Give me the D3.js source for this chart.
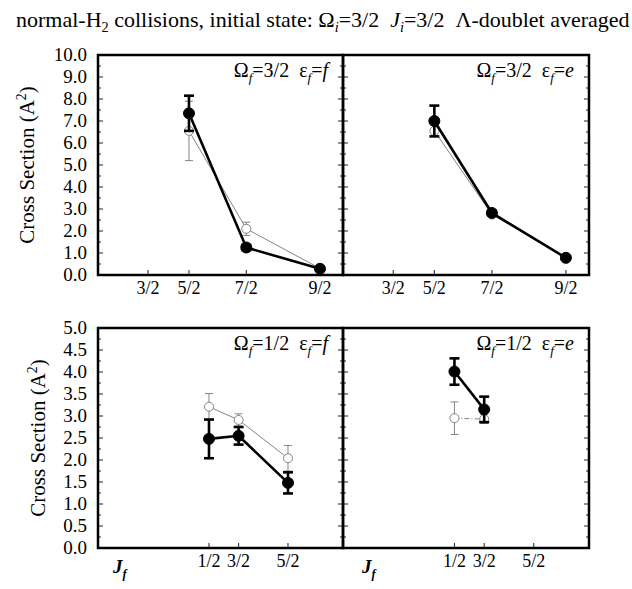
<!DOCTYPE html>
<html>
<head>
<meta charset="utf-8">
<script src="https://cdn.jsdelivr.net/npm/d3@7"></script>
<style>
  body { margin: 0; background: #fff; }
  svg { font-family: "Liberation Serif", "Times New Roman", serif; }
</style>
</head>
<body>
<div id="chart"></div>
<script>
// final rotational level, plotted against J(J+1)
const topJ = [2.5, 3.5, 4.5];
const topTicks = [1.5, 2.5, 3.5, 4.5];
const botJ = [0.5, 1.5, 2.5];
const botTicks = [0.5, 1.5, 2.5];
const tickNames = { 0.5: "1/2", 1.5: "3/2", 2.5: "5/2", 3.5: "7/2", 4.5: "9/2" };

// Omega_f = 3/2, eps_f = f
const f32Filled = [7.35, 1.25, 0.28];
const f32FilledErr = [0.8, 0.12, 0.08];
const f32Open = [6.55, 2.1, 0.3];
const f32OpenErr = [1.35, 0.3, 0.08];
// Omega_f = 3/2, eps_f = e
const e32Filled = [7.0, 2.82, 0.78];
const e32FilledErr = [0.7, 0.1, 0.08];
const e32Open = [6.55, 2.75, 0.8];
const e32OpenErr = [0.25, 0.1, 0.08];
// Omega_f = 1/2, eps_f = f
const f12Filled = [2.48, 2.55, 1.48];
const f12FilledErr = [0.44, 0.2, 0.24];
const f12Open = [3.21, 2.91, 2.04];
const f12OpenErr = [0.3, 0.14, 0.29];
// Omega_f = 1/2, eps_f = e
const e12Filled = [4.01, 3.15];
const e12FilledErr = [0.3, 0.29];
const e12Open = [2.95, 2.93];
const e12OpenErr = [0.37, 0.1];

const width = 632, height = 589;
const svg = d3.select("#chart").append("svg")
  .attr("width", width).attr("height", height);

const xs = s => s * (s + 1);
const gap = "\u00a0\u00a0";

// p.t text, p.dy shift, p.small sub/superscript size, p.i italic
function rich(sel, parts) {
  parts.forEach(p => {
    const t = sel.append("tspan").text(p.t);
    if (p.i) t.attr("font-style", "italic");
    if (p.dy) t.attr("dy", p.dy);
    if (p.small) t.attr("font-size", "0.65em");
  });
}

// title
const title = svg.append("text").attr("x", 16).attr("y", 27).attr("font-size", 22);
rich(title, [
  { t: "normal-H" }, { t: "2", dy: 5, small: true }, { t: " collisions, initial state: Ω", dy: -5 },
  { t: "i", dy: 5, small: true, i: true }, { t: "=3/2" + gap, dy: -5 }, { t: "J", i: true },
  { t: "i", dy: 5, small: true, i: true }, { t: "=3/2" + gap + "Λ-doublet averaged", dy: -5 }
]);

const left = 98, mid = 343, right = 589;

function row(top, bottom, yMax, yStep, xDomain, ticks, panels, yLabelX) {
  const y = d3.scaleLinear().domain([0, yMax]).range([bottom, top]);
  const g = svg.append("g");

  // y tick labels
  const majors = d3.range(0, yMax + 1e-9, yStep);
  const minors = d3.range(0, yMax + 1e-9, yStep / 2);
  g.append("g").selectAll("text").data(majors).join("text")
    .attr("x", 87).attr("y", d => y(d) + 6)
    .attr("text-anchor", "end").attr("font-size", 19)
    .text(d => d.toFixed(1));

  // y label
  const yl = g.append("text")
    .attr("transform", `translate(${yLabelX},${(top + bottom) / 2}) rotate(-90)`)
    .attr("text-anchor", "middle").attr("font-size", 21);
  rich(yl, [{ t: "Cross Section (A" }, { t: "2", dy: -8, small: true }, { t: ")", dy: 8 }]);

  panels.forEach((p, k) => {
    const x0 = k === 0 ? left : mid, x1 = k === 0 ? mid : right;
    const x = d3.scaleLinear().domain(xDomain).range([x0, x1]);
    const pg = g.append("g");

    // y ticks
    minors.forEach((v, i) => {
      const len = i % 2 === 0 ? 5 : 3;
      if (k === 0) {
        pg.append("line").attr("x1", x0).attr("x2", x0 + len)
          .attr("y1", y(v)).attr("y2", y(v)).attr("stroke", "#222").attr("stroke-width", 1);
        pg.append("line").attr("x1", x1 - len).attr("x2", x1 + len)
          .attr("y1", y(v)).attr("y2", y(v)).attr("stroke", "#222").attr("stroke-width", 1);
      } else {
        pg.append("line").attr("x1", x1 - len).attr("x2", x1)
          .attr("y1", y(v)).attr("y2", y(v)).attr("stroke", "#222").attr("stroke-width", 1);
      }
    });

    // x ticks and labels
    ticks.forEach(t => {
      pg.append("line").attr("x1", x(xs(t))).attr("x2", x(xs(t)))
        .attr("y1", bottom).attr("y2", bottom - 5).attr("stroke", "#222").attr("stroke-width", 1);
      pg.append("text").attr("x", x(xs(t))).attr("y", bottom + 19)
        .attr("text-anchor", "middle").attr("font-size", 18).text(tickNames[t]);
    });

    // frame
    pg.append("rect").attr("x", x0).attr("y", top).attr("width", x1 - x0).attr("height", bottom - top)
      .attr("fill", "none").attr("stroke", "#000").attr("stroke-width", 2.5);

    // series: open (grey, thin) then filled (black, thick)
    const series = [
      { v: p.open, e: p.openErr, color: "#777", lw: 0.9, cap: 4, r: 4.5, fill: "#fff", dash: p.openDash },
      { v: p.filled, e: p.filledErr, color: "#000", lw: 2.6, cap: 5, r: 5.5, fill: "#000" }
    ];
    series.forEach(s => {
      const pts = s.v.map((v, i) => ({ j: p.j[i], v, e: s.e[i] }));
      pg.append("path").datum(pts)
        .attr("d", d3.line().x(d => x(xs(d.j))).y(d => y(d.v)))
        .attr("fill", "none").attr("stroke", s.color).attr("stroke-width", s.lw)
        .attr("stroke-dasharray", s.dash || null);
      const eb = pg.append("g").selectAll("g").data(pts).join("g")
        .attr("stroke", s.color).attr("stroke-width", s.lw);
      eb.append("line").attr("x1", d => x(xs(d.j))).attr("x2", d => x(xs(d.j)))
        .attr("y1", d => y(d.v - d.e)).attr("y2", d => y(d.v + d.e));
      [-1, 1].forEach(sg => {
        eb.append("line").attr("x1", d => x(xs(d.j)) - s.cap).attr("x2", d => x(xs(d.j)) + s.cap)
          .attr("y1", d => y(d.v + sg * d.e)).attr("y2", d => y(d.v + sg * d.e));
      });
      pg.append("g").selectAll("circle").data(pts).join("circle")
        .attr("cx", d => x(xs(d.j))).attr("cy", d => y(d.v)).attr("r", s.r)
        .attr("fill", s.fill).attr("stroke", s.color).attr("stroke-width", s.fill === "#000" ? 1 : 0.9);
    });

    // panel label
    const lab = pg.append("text").attr("x", x1 - 15).attr("y", top + 22)
      .attr("text-anchor", "end").attr("font-size", 20);
    rich(lab, [
      { t: "Ω" }, { t: "f", dy: 5, small: true, i: true }, { t: "=" + p.omega + gap + "ε", dy: -5 },
      { t: "f", dy: 5, small: true, i: true }, { t: "=", dy: -5 }, { t: p.eps, i: true }
    ]);

    if (p.jLabel) {
      const jl = pg.append("text").attr("x", p.jLabel).attr("y", bottom + 25)
        .attr("font-size", 19).attr("font-weight", "bold").attr("font-style", "italic");
      rich(jl, [{ t: "J" }, { t: "f", dy: 5, small: true }]);
    }
  });
}

row(55, 275, 10, 1, [-2.36, 27.56], topTicks, [
  { j: topJ, omega: "3/2", eps: "f", filled: f32Filled, filledErr: f32FilledErr, open: f32Open, openErr: f32OpenErr },
  { j: topJ, omega: "3/2", eps: "e", filled: e32Filled, filledErr: e32FilledErr, open: e32Open, openErr: e32OpenErr }
], 34);

row(328, 548, 5, 0.5, [-10.49, 14.32], botTicks, [
  { j: botJ, omega: "1/2", eps: "f", filled: f12Filled, filledErr: f12FilledErr, open: f12Open, openErr: f12OpenErr, jLabel: 113 },
  { j: botJ.slice(0, 2), omega: "1/2", eps: "e", filled: e12Filled, filledErr: e12FilledErr, open: e12Open, openErr: e12OpenErr, jLabel: 362, openDash: "5,2,1,2" }
], 45);
</script>
</body>
</html>
